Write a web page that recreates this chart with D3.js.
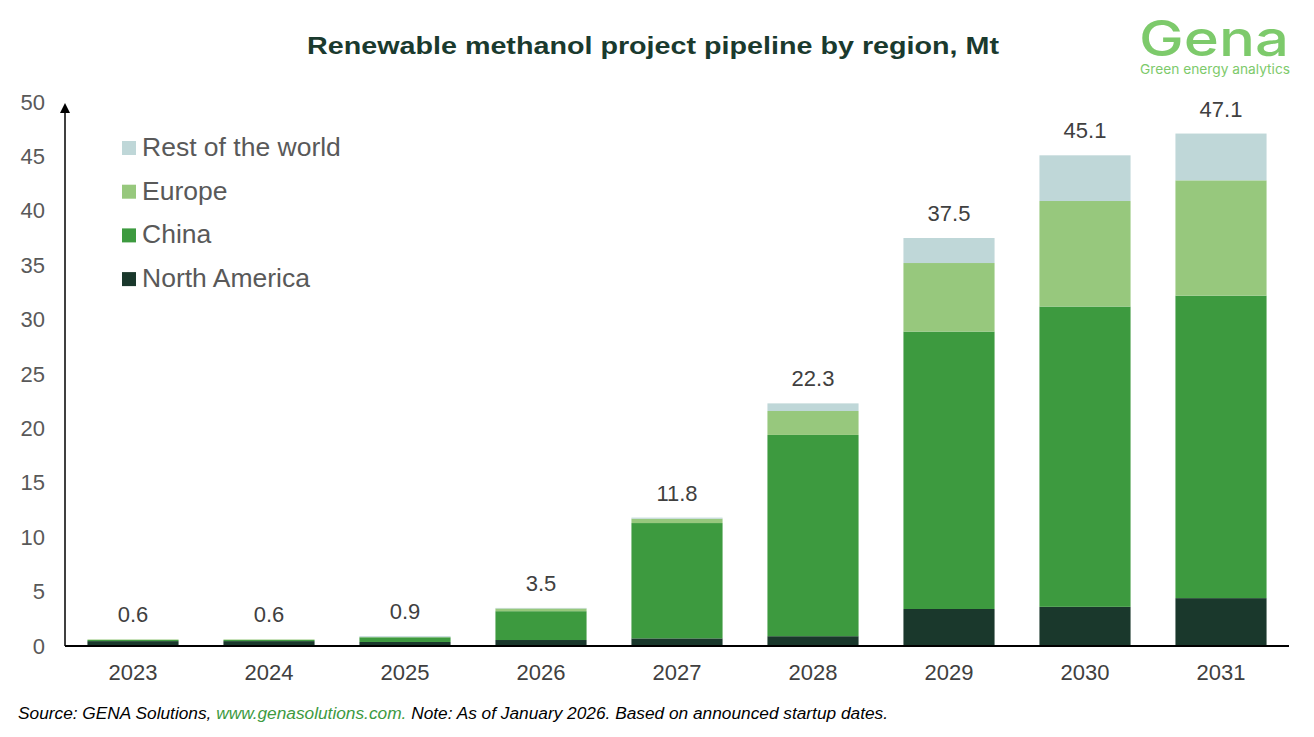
<!DOCTYPE html>
<html>
<head>
<meta charset="utf-8">
<script src="https://cdn.jsdelivr.net/npm/d3@7"></script>
<style>
  body { margin: 0; background: #fff; }
  svg { display: block; font-family: Arial, "Liberation Sans", sans-serif; }
</style>
</head>
<body>
<div class="chart"></div>
<script>
// data (Mt)
const years = ["2023", "2024", "2025", "2026", "2027", "2028", "2029", "2030", "2031"];
const northAmerica = [0.45, 0.45, 0.37, 0.55, 0.7, 0.9, 3.4, 3.6, 4.4];
const china = [0.1, 0.1, 0.43, 2.65, 10.6, 18.5, 25.5, 27.6, 27.8];
const europe = [0.05, 0.05, 0.02, 0.25, 0.4, 2.2, 6.3, 9.7, 10.6];
const restOfWorld = [0, 0, 0.08, 0.05, 0.1, 0.7, 2.3, 4.2, 4.3];
const totals = ["0.6", "0.6", "0.9", "3.5", "11.8", "22.3", "37.5", "45.1", "47.1"];
const seriesNames = ["North America", "China", "Europe", "Rest of the world"];
const yTicks = [0, 5, 10, 15, 20, 25, 30, 35, 40, 45, 50];

const colors = {
  "North America": "#1a382c",
  "China": "#3d9a3f",
  "Europe": "#97c87d",
  "Rest of the world": "#bfd7d8"
};

var W = 1314, H = 737;
var plotL = 65, plotR = 1289, plotB = 646, plotT = 102;

var svg = d3.select(".chart").append("svg")
    .attr("width", W)
    .attr("height", H);

// rows for stacking
var rows = years.map(function (y, i) {
    return {
        year: y,
        "North America": northAmerica[i],
        "China": china[i],
        "Europe": europe[i],
        "Rest of the world": restOfWorld[i],
        total: totals[i]
    };
});

var x = d3.scaleBand()
    .domain(years)
    .range([plotL, plotR])
    .paddingInner(0.33)
    .paddingOuter(0.165);

var y = d3.scaleLinear()
    .domain([0, 50])
    .range([plotB, plotT]);

var stack = d3.stack().keys(seriesNames);
var layers = stack(rows);

// bars
svg.selectAll(".layer")
    .data(layers)
    .enter()
    .append("g")
    .attr("class", "layer")
    .attr("fill", function (d) { return colors[d.key]; })
    .selectAll("rect")
    .data(function (d) { return d; })
    .enter()
    .append("rect")
    .attr("x", function (d) { return x(d.data.year); })
    .attr("width", x.bandwidth())
    .attr("y", function (d) { return y(d[1]); })
    .attr("height", function (d) { return y(d[0]) - y(d[1]); });

// total labels
svg.selectAll(".total")
    .data(rows)
    .enter()
    .append("text")
    .attr("class", "total")
    .attr("x", function (d) { return x(d.year) + x.bandwidth() / 2; })
    .attr("y", function (d) { return y(+d.total) - 17; })
    .attr("text-anchor", "middle")
    .attr("font-size", 22)
    .attr("fill", "#404040")
    .text(function (d) { return d.total; });

// y axis (labels only, own line with arrow)
var yAxis = d3.axisLeft(y)
    .tickValues(yTicks)
    .tickSize(0)
    .tickPadding(20);

var gy = svg.append("g")
    .attr("transform", "translate(" + plotL + ",0)")
    .call(yAxis);
gy.select(".domain").remove();
gy.selectAll("text")
    .attr("font-size", 22)
    .attr("font-family", "Arial, 'Liberation Sans', sans-serif")
    .attr("fill", "#595959");

svg.append("line")
    .attr("x1", plotL).attr("x2", plotL)
    .attr("y1", plotB).attr("y2", plotT + 9)
    .attr("stroke", "#000")
    .attr("stroke-width", 1.5);
svg.append("path")
    .attr("d", "M" + (plotL - 5) + "," + (plotT + 11) + " L" + plotL + "," + (plotT + 1) + " L" + (plotL + 5) + "," + (plotT + 11) + " Z")
    .attr("fill", "#000");

// x axis
var xAxis = d3.axisBottom(x)
    .tickSize(0)
    .tickPadding(18);

var gx = svg.append("g")
    .attr("transform", "translate(0," + plotB + ")")
    .call(xAxis);
gx.select(".domain").remove();
gx.selectAll("text")
    .attr("font-size", 22)
    .attr("font-family", "Arial, 'Liberation Sans', sans-serif")
    .attr("fill", "#404040");

svg.append("line")
    .attr("x1", plotL).attr("x2", plotR)
    .attr("y1", plotB).attr("y2", plotB)
    .attr("stroke", "#000")
    .attr("stroke-width", 2);

// legend
var legendOrder = seriesNames.slice().reverse();
var legend = svg.selectAll(".legend")
    .data(legendOrder)
    .enter()
    .append("g")
    .attr("class", "legend")
    .attr("transform", function (d, i) { return "translate(122," + (147 + i * 43.7) + ")"; });

legend.append("rect")
    .attr("x", 0)
    .attr("y", -6)
    .attr("width", 14)
    .attr("height", 14)
    .attr("fill", function (d) { return colors[d]; });

legend.append("text")
    .attr("x", 20)
    .attr("y", 9)
    .attr("font-size", 26.5)
    .attr("fill", "#595959")
    .text(function (d) { return d; });

// title
svg.append("text")
    .attr("x", 307)
    .attr("y", 54)
    .attr("font-size", 24)
    .attr("font-weight", "bold")
    .attr("fill", "#1a3a2e")
    .attr("textLength", 692)
    .attr("lengthAdjust", "spacingAndGlyphs")
    .text("Renewable methanol project pipeline by region, Mt");

// logo
svg.append("text")
    .attr("x", 1214)
    .attr("y", 56)
    .attr("text-anchor", "middle")
    .attr("font-size", 50)
    .attr("font-weight", 500)
    .attr("font-family", "Inter, 'Open Sans', sans-serif")
    .attr("fill", "#7dca6b")
    .attr("textLength", 150)
    .attr("lengthAdjust", "spacingAndGlyphs")
    .text("Gena");
svg.append("text")
    .attr("x", 1215)
    .attr("y", 74)
    .attr("text-anchor", "middle")
    .attr("font-size", 13)
    .attr("font-family", "Inter, 'Open Sans', sans-serif")
    .attr("fill", "#7dca6b")
    .attr("textLength", 150)
    .attr("lengthAdjust", "spacingAndGlyphs")
    .text("Green energy analytics");

// footer
var foot = svg.append("text")
    .attr("x", 18)
    .attr("y", 719)
    .attr("font-size", 17.3)
    .attr("font-style", "italic")
    .attr("font-family", "'Liberation Sans Narrow', 'Arial Narrow', Arial, sans-serif")
    .attr("fill", "#000");
foot.append("tspan").text("Source: GENA Solutions, ");
foot.append("tspan").attr("fill", "#3d9a3f").text("www.genasolutions.com.");
foot.append("tspan").text(" Note: As of January 2026. Based on announced startup dates.");
</script>
</body>
</html>
